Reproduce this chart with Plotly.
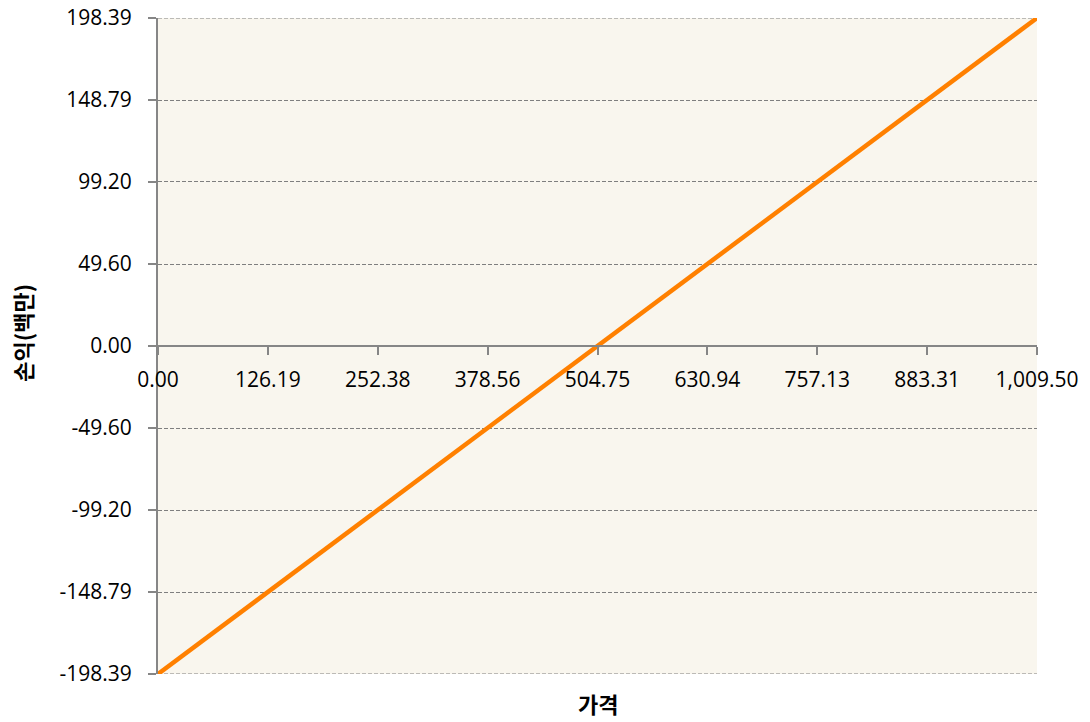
import plotly.graph_objects as go

# 데이터
price = [0.0, 1009.50]
pnl = [-198.39, 198.39]

x_tick_vals = [0.0, 126.19, 252.38, 378.56, 504.75, 630.94, 757.13, 883.31, 1009.50]
x_tick_text = ['0.00', '126.19', '252.38', '378.56', '504.75', '630.94', '757.13', '883.31', '1,009.50']
y_tick_vals = [-198.39, -148.79, -99.20, -49.60, 0.0, 49.60, 99.20, 148.79, 198.39]
y_tick_text = ['-198.39', '-148.79', '-99.20', '-49.60', '0.00', '49.60', '99.20', '148.79', '198.39']

FONT = '"Open Sans", "Noto Sans CJK KR", sans-serif'
KR_FONT = '"Noto Sans CJK KR", sans-serif'
AXIS_GRAY = '#868686'
GRID_GRAY = '#7F7F7F'

fig = go.Figure()

fig.add_trace(go.Scatter(
    x=price,
    y=pnl,
    mode='lines',
    line=dict(color='#FF8000', width=4.5),
    showlegend=False,
    hoverinfo='skip'
))

fig.update_layout(
    width=1090,
    height=722,
    margin=dict(l=158, r=53, t=18, b=48),
    paper_bgcolor='white',
    plot_bgcolor='#F9F6EE',
    font=dict(family=FONT, size=21, color='black'),
    annotations=[
        # x 축 제목
        dict(
            text='<b>가격</b>',
            x=0.5, y=-0.044,
            xref='paper', yref='paper',
            xanchor='center', yanchor='middle',
            showarrow=False,
            font=dict(family=KR_FONT, size=22, color='black')
        ),
        # y 축 제목
        dict(
            text='<b>손익(백만)</b>',
            x=-0.155, y=0.52,
            xref='paper', yref='paper',
            xanchor='center', yanchor='middle',
            textangle=-90,
            showarrow=False,
            font=dict(family=KR_FONT, size=22, color='black')
        )
    ]
)

# 위/아래 끝 격자선 (plotly 가 범위 끝 격자선을 생략하므로 직접 추가)
for yv in (y_tick_vals[0], y_tick_vals[-1]):
    fig.add_hline(y=yv, line_color=GRID_GRAY, line_width=1, line_dash='4px,2px', layer='below')

# X 축 - 0 위치에 그림
fig.update_xaxes(
    range=[price[0], price[-1]],
    tickvals=x_tick_vals,
    ticktext=x_tick_text,
    anchor='free',
    position=0.5,
    showline=True,
    linecolor=AXIS_GRAY,
    linewidth=2,
    ticks='outside',
    ticklen=8,
    tickwidth=2,
    tickcolor=AXIS_GRAY,
    showgrid=False,
    zeroline=False,
    automargin=False,
    ticklabelstandoff=7,
    tickfont=dict(size=21)
)

# Y 축
fig.update_yaxes(
    range=[pnl[0], pnl[-1]],
    tickvals=y_tick_vals,
    ticktext=y_tick_text,
    showline=True,
    linecolor=AXIS_GRAY,
    linewidth=2,
    ticks='outside',
    ticklen=8,
    tickwidth=2,
    tickcolor=AXIS_GRAY,
    showgrid=True,
    gridcolor=GRID_GRAY,
    gridwidth=1,
    griddash='4px,2px',
    zeroline=False,
    automargin=False,
    ticklabelstandoff=12,
    tickfont=dict(size=21)
)

fig.write_html('out.html', config={'displayModeBar': False},
               post_script="document.body.style.margin='0';")
